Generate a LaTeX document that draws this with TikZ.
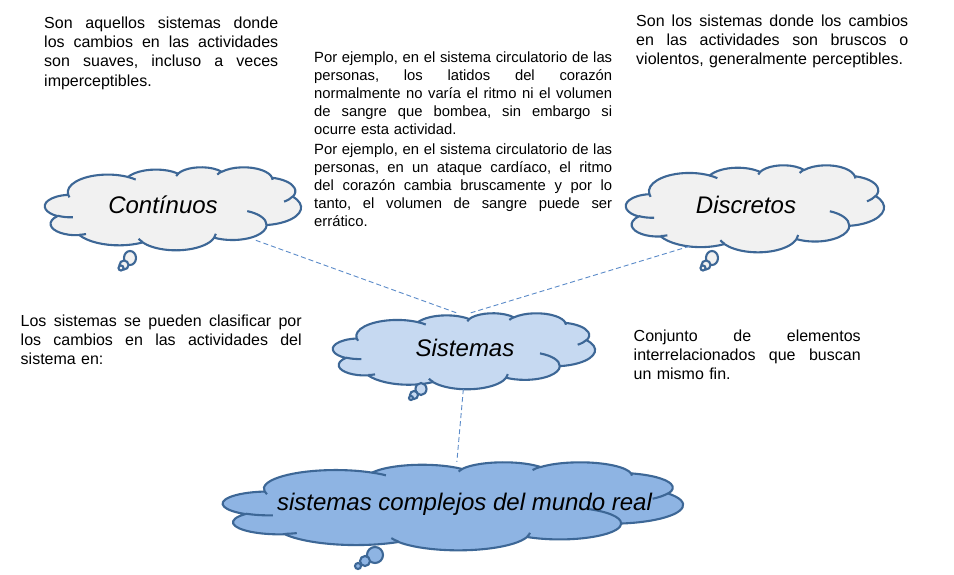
\documentclass[tikz,border=0pt]{standalone}
\usepackage{fontspec}
\setmainfont{Liberation Sans}
\usetikzlibrary{shapes.geometric}

\definecolor{cloudedge}{HTML}{3D6796}
\definecolor{cgray}{HTML}{F1F1F1}
\definecolor{clight}{HTML}{C6D9F1}
\definecolor{cmid}{HTML}{8EB4E3}
\definecolor{dashc}{HTML}{5B8BC9}

% one justified line of given width
\newcommand\jl[2]{\leavevmode\hbox to #1{\frenchspacing\spaceskip=0.278em plus 1fil\relax\xspaceskip=\spaceskip #2}}

% PowerPoint-like cloud, drawn in a 43.2 x 43.2 frame
\newcommand\pptcloud[4]{%
  \begin{scope}[shift={(#1)}, x=#2pt, y=-#3pt]
    \filldraw[cloudline, fill=#4] (3.900,14.370)
      arc[start angle=-187.745, end angle=-59.64, x radius=6.753, y radius=9.190]
      arc[start angle=-152.02, end angle=-45.46, x radius=5.333, y radius=7.267]
      arc[start angle=-153.49, end angle=-37.33, x radius=4.365, y radius=5.945]
      arc[start angle=-139.70, end angle=-10.21, x radius=4.857, y radius=6.595]
      arc[start angle=-74.77, end angle=23.22, x radius=5.333, y radius=7.273]
      arc[start angle=-37.53, end angle=81.86, x radius=6.775, y radius=9.220]
      arc[start angle=0.46, end angle=121.97, x radius=5.785, y radius=7.867]
      arc[start angle=16.84, end angle=146.23, x radius=6.752, y radius=9.215]
      arc[start angle=58.98, end angle=150.19, x radius=7.720, y radius=10.543]
      arc[start angle=83.31, end angle=223.10, x radius=4.360, y radius=5.918]
      arc[start angle=120.34, end angle=264.11, x radius=4.345, y radius=5.945]
      -- cycle;
    \draw[cloudline]
      (4.693,26.177) arc[start angle=85.55, end angle=120.35, x radius=4.345, y radius=5.945]
      (6.928,34.899) arc[start angle=68.23, end angle=83.31, x radius=4.360, y radius=5.918]
      (16.478,39.090) arc[start angle=146.23, end angle=158.47, x radius=6.752, y radius=9.215]
      (28.827,34.751) arc[start angle=4.74, end angle=16.84, x radius=6.752, y radius=9.215]
      (34.129,22.954) arc[start angle=-64.03, end angle=0.46, x radius=5.785, y radius=7.867]
      (41.798,15.354) arc[start angle=23.22, end angle=49.65, x radius=5.333, y radius=7.273]
      (38.324,5.426) arc[start angle=-10.21, end angle=0.82, x radius=4.857, y radius=6.595]
      (29.078,3.952) arc[start angle=-156.29, end angle=-139.70, x radius=4.857, y radius=6.595]
      (22.141,4.720) arc[start angle=-167.73, end angle=-153.49, x radius=4.365, y radius=5.945]
      (14.000,5.192) arc[start angle=-59.64, end angle=-45.74, x radius=6.753, y radius=9.190]
      (4.127,15.789) arc[start angle=163.19, end angle=172.26, x radius=6.753, y radius=9.190];
  \end{scope}}

\tikzset{
  cloudline/.style={draw=cloudedge, line width=2.1pt},
  carea/.style={ellipse, draw=none, inner sep=0pt},
  clabel/.style={font=\fontsize{24}{28}\selectfont\itshape, inner sep=0pt, anchor=base},
  txt/.style={font=\fontsize{16}{19.2}\selectfont, align=left, inner sep=0pt, anchor=base west},
  smalltxt/.style={font=\fontsize{14.8}{18}\selectfont, align=left, inner sep=0pt, anchor=base west},
  link/.style={draw=dashc, line width=0.9pt, dash pattern=on 5pt off 3pt},
}

\begin{document}
\begin{tikzpicture}[x=1pt, y=-1pt]
\useasboundingbox (0,0) rectangle (954,574);
\fill[white] (0,0) rectangle (954,574);

% clouds
\pptcloud{45,167}{5.926}{1.921}{cgray}
\filldraw[cloudline, fill=cgray] (130,258) ellipse [x radius=6, y radius=7];
\filldraw[cloudline, fill=cgray] (124,265) ellipse [x radius=4.5, y radius=4.5];
\filldraw[cloudline, fill=cgray] (121,268) ellipse [x radius=2.5, y radius=2.5];

\pptcloud{626,165}{5.972}{2.014}{cgray}
\filldraw[cloudline, fill=cgray] (712,258) ellipse [x radius=6, y radius=7];
\filldraw[cloudline, fill=cgray] (706,265) ellipse [x radius=4.5, y radius=4.5];
\filldraw[cloudline, fill=cgray] (703,268) ellipse [x radius=2.5, y radius=2.5];

\pptcloud{333,313}{6.065}{1.759}{clight}
\filldraw[cloudline, fill=clight] (421,389) ellipse [x radius=5.5, y radius=6];
\filldraw[cloudline, fill=clight] (414,395) ellipse [x radius=4, y radius=4];
\filldraw[cloudline, fill=clight] (411,398) ellipse [x radius=2, y radius=2];

\pptcloud{223,462}{10.648}{2.037}{cmid}
\filldraw[cloudline, fill=cmid] (375,555) ellipse [x radius=8, y radius=8];
\filldraw[cloudline, fill=cmid] (365,561) ellipse [x radius=5, y radius=5];
\filldraw[cloudline, fill=cmid] (358,566) ellipse [x radius=3, y radius=3];

% invisible areas for connectors
\node[carea, minimum width=256pt, minimum height=83pt] (cont) at (173,208.5) {};
\node[carea, minimum width=258pt, minimum height=87pt] (disc) at (755,208.5) {};
\node[carea, minimum width=262pt, minimum height=76pt] (sist) at (464,351) {};
\node[carea, minimum width=460pt, minimum height=88pt] (comp) at (453,506) {};

% labels
\node[clabel] (contl) at (163,213.3) {Contínuos};
\node[clabel] (discl) at (746,213.3) {Discretos};
\node[clabel] (sistl) at (465,356.7) {Sistemas};
\node[clabel] (compl) at (464.5,510.7) {sistemas complejos del mundo real};

% connectors
\draw[link] (cont.-21) -- (sist.101);
\draw[link] (disc.210) -- (sist.80);
\draw[link] (sist.-91) -- (comp.85);

% texts
\node[txt, text width=234pt] (tcont) at (44,28.5) {%
\jl{234pt}{Son aquellos sistemas donde}\\
\jl{234pt}{los cambios en las actividades}\\
\jl{234pt}{son suaves, incluso a veces}\\
imperceptibles.};

\node[smalltxt, text width=298pt] (ej1) at (314,62) {%
\jl{298pt}{Por ejemplo, en el sistema circulatorio de las}\\
\jl{298pt}{personas, los latidos del corazón}\\
\jl{298pt}{normalmente no varía el ritmo ni el volumen}\\
\jl{298pt}{de sangre que bombea, sin embargo si}\\
ocurre esta actividad.};

\node[smalltxt, text width=298pt] (ej2) at (314,154) {%
\jl{298pt}{Por ejemplo, en el sistema circulatorio de las}\\
\jl{298pt}{personas, en un ataque cardíaco, el ritmo}\\
\jl{298pt}{del corazón cambia bruscamente y por lo}\\
\jl{298pt}{tanto, el volumen de sangre puede ser}\\
errático.};

\node[txt, text width=272pt] (tdisc) at (636,26.5) {%
\jl{272pt}{Son los sistemas donde los cambios}\\
\jl{272pt}{en las actividades son bruscos o}\\
violentos, generalmente perceptibles.};

\node[txt, text width=281pt] (tclas) at (20.5,326.5) {%
\jl{281pt}{Los sistemas se pueden clasificar por}\\
\jl{281pt}{los cambios en las actividades del}\\
sistema en:};

\node[txt, text width=227pt] (tsist) at (633.5,341.5) {%
\jl{227pt}{Conjunto de elementos}\\
\jl{227pt}{interrelacionados que buscan}\\
un mismo fin.};
\end{tikzpicture}
\end{document}
